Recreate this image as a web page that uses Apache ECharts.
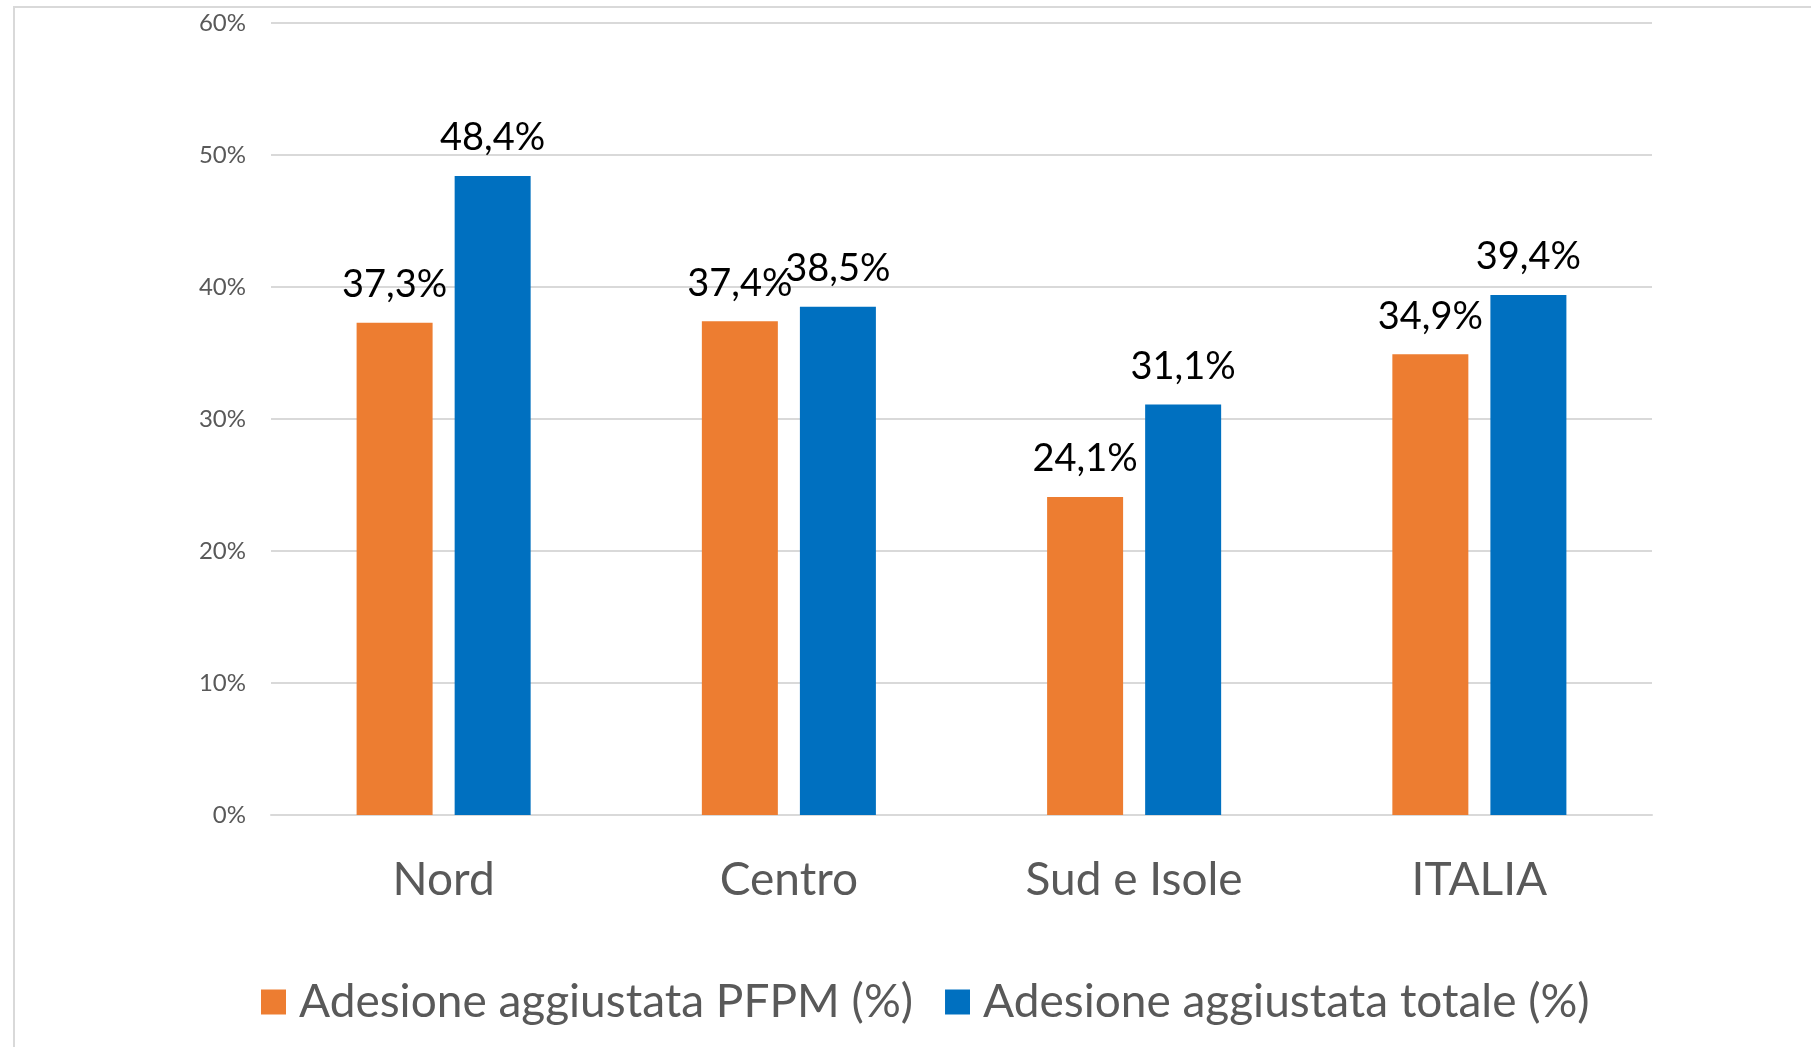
<!DOCTYPE html>
<html>
<head>
<meta charset="utf-8">
<script src="https://cdn.jsdelivr.net/npm/echarts@6/dist/echarts.min.js"></script>
<style>
  html, body { margin: 0; padding: 0; background: #fff; }
  #main { width: 1811px; height: 1047px; }
</style>
</head>
<body>
<div id="main"></div>
<script>
// dati
var categories = ['Nord', 'Centro', 'Sud e Isole', 'ITALIA'];
var seriesNames = ['Adesione aggiustata PFPM (%)', 'Adesione aggiustata totale (%)'];
var pfpm = [37.3, 37.4, 24.1, 34.9];
var totale = [48.4, 38.5, 31.1, 39.4];
var yTicks = [0, 10, 20, 30, 40, 50, 60];

var font = 'Lato';
var grey = '#595959';

function pct(v) {
  return v.toFixed(1).replace('.', ',') + '%';
}

var chartDom = document.getElementById('main');
var myChart = echarts.init(chartDom);

var labelStyle = {
  show: true,
  position: 'top',
  distance: 19,
  color: '#000',
  fontFamily: font,
  fontSize: 38,
  formatter: function (p) { return pct(p.value); }
};

var option = {
  animation: false,
  textStyle: { fontFamily: font },
  graphic: [{
    type: 'rect',
    shape: { x: 14, y: 7, width: 1900, height: 1100 },
    style: { fill: 'none', stroke: '#d9d9d9', lineWidth: 2 },
    silent: true
  }],
  grid: { left: 271, right: 159, top: 23, bottom: 232 },
  legend: {
    data: seriesNames,
    left: 256,
    bottom: 17,
    itemWidth: 25,
    itemHeight: 25,
    itemGap: 32,
    icon: 'rect',
    textStyle: { color: grey, fontSize: 46, fontFamily: font, padding: [0, 0, 0, 8] }
  },
  xAxis: {
    type: 'category',
    data: categories,
    axisLine: { lineStyle: { color: '#d9d9d9', width: 2 } },
    axisTick: { show: false },
    axisLabel: { color: grey, fontSize: 46, fontFamily: font, margin: 42 }
  },
  yAxis: {
    type: 'value',
    min: yTicks[0],
    max: yTicks[yTicks.length - 1],
    interval: 10,
    axisLine: { show: false },
    axisTick: { show: false },
    splitLine: { lineStyle: { color: '#d9d9d9', width: 2 } },
    axisLabel: { color: grey, fontSize: 24, fontFamily: font, margin: 25, formatter: '{value}%' }
  },
  series: [
    {
      name: seriesNames[0],
      type: 'bar',
      data: pfpm,
      barWidth: 76,
      barGap: '29%',
      itemStyle: { color: '#ed7d31' },
      label: labelStyle
    },
    {
      name: seriesNames[1],
      type: 'bar',
      data: totale,
      barWidth: 76,
      itemStyle: { color: '#0070c0' },
      label: labelStyle
    }
  ]
};

myChart.setOption(option);
</script>
</body>
</html>
